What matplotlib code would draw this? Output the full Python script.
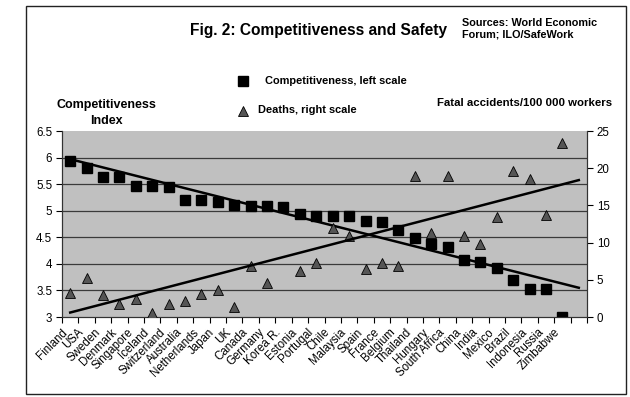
import numpy as np
import matplotlib.pyplot as plt
from matplotlib.lines import Line2D
from matplotlib.patches import Rectangle
from matplotlib.transforms import ScaledTranslation

plt.rcParams['font.family'] = ['Liberation Sans', 'DejaVu Sans']

countries = ['Finland', 'USA', 'Sweden', 'Denmark', 'Singapore', 'Iceland',
             'Switzerland', 'Australia', 'Netherlands', 'Japan', 'UK', 'Canada',
             'Germany', 'Korea R.', 'Estonia', 'Portugal', 'Chile', 'Malaysia',
             'Spain', 'France', 'Belgium', 'Thailand', 'Hungary', 'South Africa',
             'China', 'India', 'Mexico', 'Brazil', 'Indonesia', 'Russia', 'Zimbabwe']

# competitiveness index (left scale)
competitiveness = [5.94, 5.80, 5.64, 5.64, 5.47, 5.47, 5.45, 5.20, 5.20, 5.17,
                   5.10, 5.09, 5.09, 5.07, 4.93, 4.90, 4.90, 4.90, 4.80, 4.78,
                   4.64, 4.49, 4.37, 4.31, 4.07, 4.04, 3.92, 3.69, 3.52, 3.52, 3.00]

# fatal accidents per 100 000 workers (right scale), Korea R. missing
deaths = [3.2, 5.2, 3.0, 1.8, 2.4, 0.5, 1.8, 2.2, 3.1, 3.6,
          1.4, 6.9, 4.6, np.nan, 6.2, 7.3, 11.9, 10.9, 6.4, 7.3,
          6.9, 18.9, 11.3, 18.9, 10.9, 9.8, 13.4, 19.6, 18.5, 13.7, 23.4]

# linear trend lines as drawn in the original (first category to one period past the last)
trend_x = [1, 32]
trend_competitiveness = [5.97, 3.55]
trend_deaths = [0.6, 18.4]

left_ticks = [3, 3.5, 4, 4.5, 5, 5.5, 6, 6.5]
right_ticks = [0, 5, 10, 15, 20, 25]

x = np.arange(1, len(countries) + 1)

fig = plt.figure(figsize=(6.3, 3.97), dpi=100)
ax = fig.add_axes([62 / 630, 1 - 317 / 397, 525 / 630, 186 / 397])
ax2 = ax.twinx()

ax.set_facecolor('#c0c0c0')
ax.set_xlim(0.5, len(countries) + 1.5)
ax.set_ylim(3, 6.5)
ax2.set_ylim(0, 25)

for y in left_ticks[1:-1]:
    ax.axhline(y, color='#3a3a3a', linewidth=0.9, zorder=1)

ax.plot(x, competitiveness, 's', color='black', markersize=6.5, zorder=3)
ax.plot(trend_x, trend_competitiveness, color='black', linewidth=1.8, zorder=4)
ax2.plot(x, deaths, '^', markerfacecolor='#555555', markeredgecolor='black',
         markeredgewidth=0.6, markersize=6.5, zorder=3)
ax2.plot(trend_x, trend_deaths, color='black', linewidth=1.8, zorder=4)

# axes styling
for a in (ax, ax2):
    a.spines['top'].set_visible(False)
    for s in ('left', 'right', 'bottom'):
        a.spines[s].set_color('#333333')
        a.spines[s].set_linewidth(0.8)

ax.set_yticks(left_ticks)
ax.set_yticklabels([f'{t:g}' for t in left_ticks])
ax2.set_yticks(right_ticks)
ax.tick_params(axis='y', length=4, width=0.8, labelsize=8.3, pad=3)
ax2.tick_params(axis='y', length=4, width=0.8, labelsize=8.3, pad=3)

ax.set_xticks(np.arange(0.5, len(countries) + 2, 1))
ax.set_xticklabels([])
ax.tick_params(axis='x', which='major', length=4, width=0.8)
ax.set_xticks(x, minor=True)
ax.set_xticklabels(countries, minor=True, rotation=45, ha='right',
                   rotation_mode='anchor', fontsize=8.3)
ax.tick_params(axis='x', which='minor', length=0, pad=6)
shift = ScaledTranslation(-9 / 100, -1 / 100, fig.dpi_scale_trans)
for lbl in ax.get_xticklabels(minor=True):
    lbl.set_transform(lbl.get_transform() + shift)

# texts
fig.text(190 / 630, 1 - 31 / 397, 'Fig. 2: Competitiveness and Safety',
         fontsize=11.2, fontweight='bold', va='center', ha='left')
fig.text(462 / 630, 1 - 29 / 397, 'Sources: World Economic\nForum; ILO/SafeWork',
         fontsize=7.8, fontweight='bold', va='center', ha='left', linespacing=1.15)
fig.text(106 / 630, 1 - 113 / 397, 'Competitiveness\nIndex', fontsize=9,
         fontweight='bold', va='center', ha='center', linespacing=1.35)
fig.text(612 / 630, 1 - 103 / 397, 'Fatal accidents/100 000 workers', fontsize=8.2,
         fontweight='bold', va='center', ha='right')

# legend
fig.add_artist(Line2D([243 / 630], [1 - 81 / 397], marker='s', color='black',
                      markersize=6.5, linestyle='none'))
fig.text(265 / 630, 1 - 81 / 397, 'Competitiveness, left scale', fontsize=7.9,
         fontweight='bold', va='center', ha='left')
fig.add_artist(Line2D([243 / 630], [1 - 111 / 397], marker='^', markerfacecolor='#555555',
                      markeredgecolor='black', markeredgewidth=0.6, markersize=6.5,
                      linestyle='none'))
fig.text(258 / 630, 1 - 110 / 397, 'Deaths, right scale', fontsize=7.9,
         fontweight='bold', va='center', ha='left')

# outer frame
fig.add_artist(Rectangle((26 / 630, 1 - 394 / 397), 600 / 630, 388 / 397,
                         transform=fig.transFigure, fill=False,
                         edgecolor='#222222', linewidth=1.0))

fig.savefig('out.png', dpi=100)
